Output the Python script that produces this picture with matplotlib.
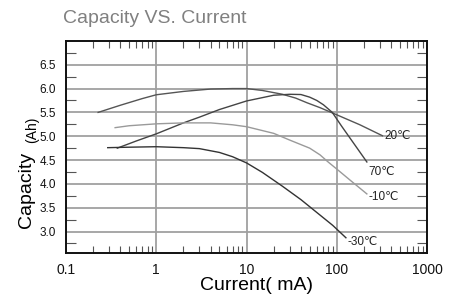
import numpy as np
import matplotlib.pyplot as plt
from matplotlib.ticker import FixedLocator, LogLocator, NullFormatter

plt.rcParams['font.family'] = ['Liberation Sans', 'DejaVu Sans']

# Curves (current in mA, capacity in Ah)
x_20 = [0.227, 0.4, 0.7, 1, 2, 4, 7, 10, 15, 25, 35, 47, 65, 89, 180, 320]
y_20 = [5.50, 5.65, 5.79, 5.87, 5.94, 5.99, 6.00, 6.00, 5.96, 5.88, 5.80, 5.70, 5.60, 5.49, 5.24, 5.01]

x_70 = [0.37, 0.6, 1, 2, 3, 5, 10, 20, 30, 40, 50, 60, 71, 89, 113, 215]
y_70 = [4.75, 4.90, 5.05, 5.28, 5.40, 5.56, 5.74, 5.86, 5.88, 5.875, 5.82, 5.75, 5.66, 5.50, 5.21, 4.46]

x_m10 = [0.35, 0.5, 1, 2, 4, 7, 10, 20, 30, 50, 65, 80, 100, 142, 215]
y_m10 = [5.18, 5.22, 5.26, 5.28, 5.28, 5.24, 5.20, 5.06, 4.92, 4.75, 4.61, 4.46, 4.31, 4.07, 3.79]

x_m30 = [0.29, 0.5, 1, 2, 3, 5, 7, 10, 15, 25, 40, 60, 90, 126]
y_m30 = [4.76, 4.77, 4.78, 4.76, 4.74, 4.66, 4.57, 4.44, 4.24, 3.95, 3.67, 3.40, 3.13, 2.87]

curve_labels = ['20\u2103', '70\u2103', '-10\u2103', '-30\u2103']
label_pos = [(340, 5.0), (225, 4.24), (225, 3.72), (132, 2.79)]

y_major = [3.0, 3.5, 4.0, 4.5, 5.0, 5.5, 6.0, 6.5]
y_minor = [2.75, 3.25, 3.75, 4.25, 4.75, 5.25, 5.75, 6.25, 6.75]
x_major = [0.1, 1, 10, 100, 1000]
x_ticklabels = ['0.1', '1', '10', '100', '1000']

fig = plt.figure(figsize=(4.52, 3.03), dpi=100)
ax = fig.add_axes([0.146, 0.165, 0.799, 0.700])

ax.plot(x_20, y_20, color='#555555', lw=1.0)
ax.plot(x_70, y_70, color='#444444', lw=1.0)
ax.plot(x_m10, y_m10, color='#9a9a9a', lw=1.0)
ax.plot(x_m30, y_m30, color='#333333', lw=1.0)

for txt, (lx, ly) in zip(curve_labels, label_pos):
    ax.text(lx, ly, txt, fontsize=8.5, ha='left', va='center', color='#222222')

ax.set_xscale('log')
ax.set_xlim(0.1, 1000)
ax.set_ylim(2.55, 7.0)

ax.xaxis.set_major_locator(FixedLocator(x_major))
ax.set_xticklabels(x_ticklabels)
ax.xaxis.set_minor_locator(LogLocator(base=10, subs=np.arange(2, 10)))
ax.xaxis.set_minor_formatter(NullFormatter())
ax.yaxis.set_major_locator(FixedLocator(y_major))
ax.set_yticklabels(['%.1f' % v for v in y_major])
ax.yaxis.set_minor_locator(FixedLocator(y_minor))

ax.tick_params(which='major', length=0, labelsize=10, pad=7, colors='#111111')
ax.tick_params(axis='y', which='major', labelsize=8.5, pad=7)
ax.tick_params(which='minor', direction='in', length=5, width=0.8, color='#555555',
               top=True, bottom=True, left=True, right=True)
ax.tick_params(axis='y', which='minor', length=7)

ax.grid(True, which='major', color='#a0a0a0', lw=1.3)
ax.set_axisbelow(True)
for s in ax.spines.values():
    s.set_linewidth(1.4)
    s.set_color('#111111')

fig.text(0.139, 0.94, 'Capacity VS. Current', fontsize=14, color='#808080',
         ha='left', va='center')
fig.text(0.568, 0.058, 'Current( mA)', fontsize=14, ha='center', va='center')
fig.text(0.058, 0.372, 'Capacity', fontsize=14, rotation=90, ha='center', va='center')
fig.text(0.072, 0.57, '(Ah)', fontsize=10, rotation=90, ha='center', va='center')

fig.savefig('out.png', dpi=100)
